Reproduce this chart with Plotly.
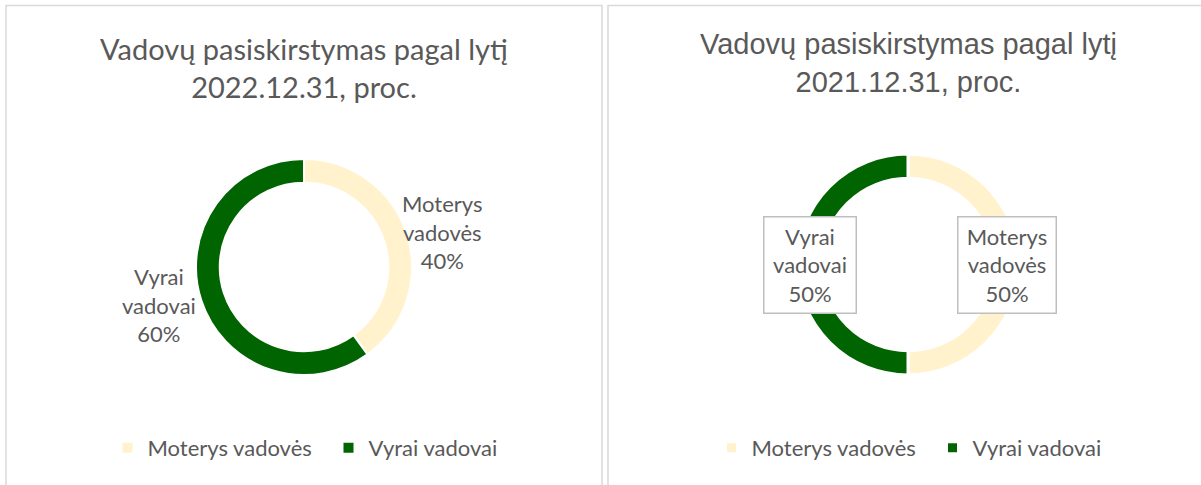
import plotly.graph_objects as go

labels = ["Moterys vadovės", "Vyrai vadovai"]
values_2022 = [40, 60]
values_2021 = [50, 50]
titles = ["Vadovų pasiskirstymas pagal lytį<br>2022.12.31, proc.",
          "Vadovų pasiskirstymas pagal lytį<br>2021.12.31, proc."]
colors = ["#FFF2CC", "#006400"]

W, H = 1201, 485
TXT = "#595959"
CAL = "Lato, 'Open Sans', sans-serif"
ARIAL = "'Liberation Sans', Arial, sans-serif"

def px(x):
    return x / W

def py(y):
    return 1 - y / H

fig = go.Figure()

# left donut: center (304, 267), r=108
cx, cy, r = 304, 267, 108
fig.add_trace(go.Pie(
    labels=labels, values=values_2022, sort=False, direction="clockwise",
    hole=0.78, textinfo="none", hoverinfo="label+percent",
    marker=dict(colors=colors, line=dict(color="white", width=2)),
    domain=dict(x=[px(cx - r), px(cx + r)], y=[py(cy + r), py(cy - r)]),
    legend="legend", showlegend=True,
))
# right donut: center (908, 264.5), r=110.5
cx2, cy2, r2 = 908, 264.5, 110.5
labels_right = [l + "\u200b" for l in labels]  # separate legend entries
fig.add_trace(go.Pie(
    labels=labels_right, values=values_2021, sort=False, direction="clockwise",
    hole=0.78, textinfo="none", hoverinfo="label+percent",
    marker=dict(colors=colors, line=dict(color="white", width=3)),
    domain=dict(x=[px(cx2 - r2), px(cx2 + r2)], y=[py(cy2 + r2), py(cy2 - r2)]),
    legend="legend2", showlegend=True,
))

def lab(name, v):
    parts = name.split(" ")
    return f"{parts[0]}<br>{parts[1]}<br>{v}%"

LS = 22
annotations = [
    dict(text=titles[0], x=px(304), y=py(68), xref="paper", yref="paper",
         showarrow=False, font=dict(family=CAL, size=29, color=TXT),
         xanchor="center", yanchor="middle"),
    dict(text=titles[1], x=px(908), y=py(63), xref="paper", yref="paper",
         showarrow=False, font=dict(family=ARIAL, size=29, color=TXT),
         xanchor="center", yanchor="middle"),
    # left chart data labels
    dict(text=lab(labels[0], values_2022[0]), x=px(442), y=py(232), xref="paper", yref="paper",
         showarrow=False, font=dict(family=CAL, size=LS, color=TXT),
         xanchor="center", yanchor="middle"),
    dict(text=lab(labels[1], values_2022[1]), x=px(159), y=py(305), xref="paper", yref="paper",
         showarrow=False, font=dict(family=CAL, size=LS, color=TXT),
         xanchor="center", yanchor="middle"),
    # right chart data labels in boxes
    dict(text=lab(labels[1], values_2021[1]), x=px(809.5), y=py(264.5), xref="paper", yref="paper",
         showarrow=False, font=dict(family=CAL, size=LS, color=TXT),
         xanchor="center", yanchor="middle", bgcolor="white",
         bordercolor="#BFBFBF", borderwidth=1.5, borderpad=0, width=91, height=95),
    dict(text=lab(labels[0], values_2021[0]), x=px(1006.5), y=py(264.5), xref="paper", yref="paper",
         showarrow=False, font=dict(family=CAL, size=LS, color=TXT),
         xanchor="center", yanchor="middle", bgcolor="white",
         bordercolor="#BFBFBF", borderwidth=1.5, borderpad=0, width=97, height=95),
]

shapes = [
    dict(type="rect", xref="paper", yref="paper", x0=px(6), x1=px(602), y0=-0.05, y1=py(5.5),
         line=dict(color="#D9D9D9", width=1.5), fillcolor="rgba(0,0,0,0)", layer="below"),
    dict(type="rect", xref="paper", yref="paper", x0=px(608), x1=1.05, y0=-0.05, y1=py(5.5),
         line=dict(color="#D9D9D9", width=1.5), fillcolor="rgba(0,0,0,0)", layer="below"),
]

leg_common = dict(orientation="h", xanchor="center", yanchor="middle",
                  font=dict(family=CAL, size=22, color=TXT),
                  bgcolor="rgba(0,0,0,0)", itemwidth=30, itemclick=False,
                  entrywidth=176)

fig.update_layout(
    width=W, height=H,
    margin=dict(l=0, r=0, t=0, b=0),
    paper_bgcolor="white", plot_bgcolor="white",
    annotations=annotations, shapes=shapes,
    legend=dict(x=px(328.5), y=py(448), **leg_common),
    legend2=dict(x=px(932.5), y=py(448), **leg_common),
)

fig.write_html("out.html", config={"displayModeBar": False},
               post_script="document.body.style.margin='0';")
